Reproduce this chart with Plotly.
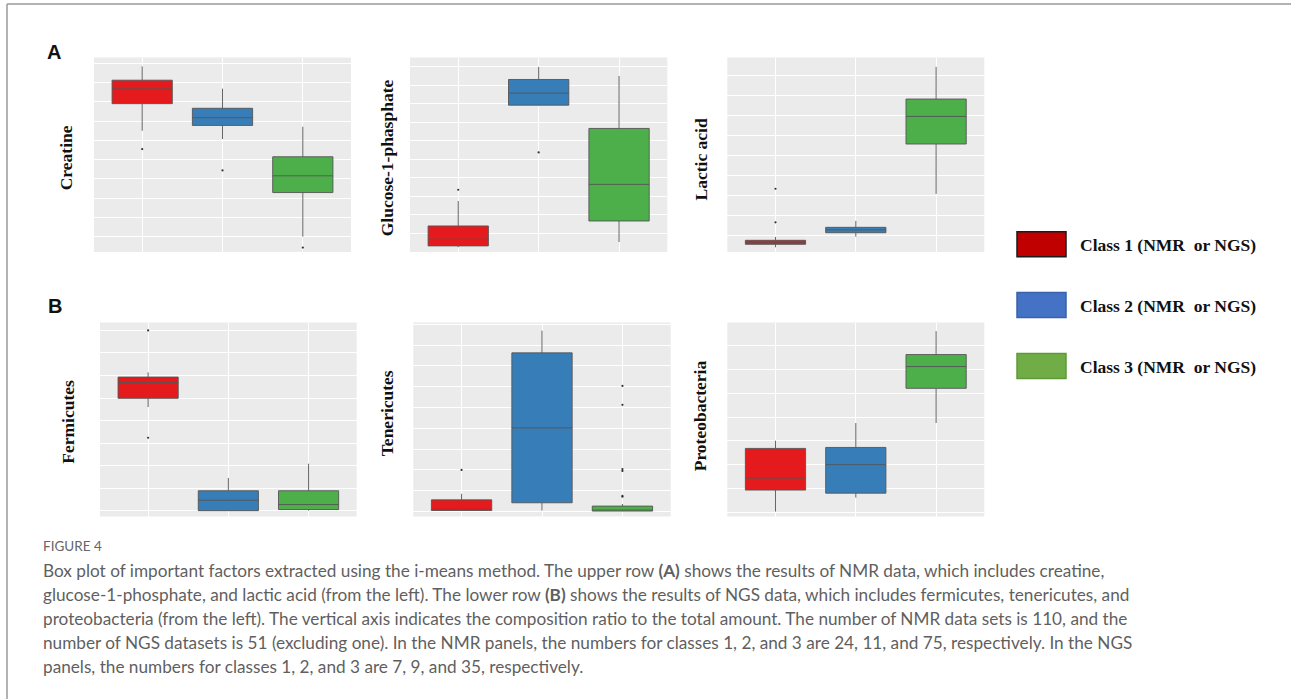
import plotly.graph_objects as go

W, H = 1291, 699

# Class positions on each panel's categorical axis
positions = [1, 2, 3]
class_fill = ["#E41A1C", "#377EB8", "#4DAF4A"]
legend_labels = ["Class 1 (NMR\u00a0 or NGS)", "Class 2 (NMR\u00a0 or NGS)", "Class 3 (NMR\u00a0 or NGS)"]
legend_fill = ["#C00000", "#4472C4", "#70AD47"]
legend_edge = ["#1a1a1a", "#3A62AA", "#5E9A3A"]

# Five-number summaries per class: (lower whisker, Q1, median, Q3, upper whisker)
creatine_stats = [(6.50, 7.91, 8.68, 9.13, 9.85), (6.07, 6.78, 7.18, 7.67, 8.69), (1.00, 3.29, 4.16, 5.15, 6.71)]
creatine_outliers = [[5.55], [4.44], [0.43]]

g1p_stats = [(0.24, 0.31, 0.67, 1.39, 2.74), (7.90, 7.93, 8.58, 9.32, 10.00), (0.52, 1.66, 3.64, 6.67, 9.51)]
g1p_outliers = [[3.35], [5.37], []]

lactic_stats = [(0.40, 0.55, 0.65, 0.75, 0.92), (0.93, 1.13, 1.27, 1.40, 1.72), (3.07, 5.57, 6.95, 7.82, 9.43)]
lactic_outliers = [[1.65, 3.33], [], []]

fermicutes_stats = [(5.60, 5.99, 6.69, 6.93, 7.14), (1.00, 1.01, 1.47, 1.89, 2.46), (1.01, 1.06, 1.28, 1.89, 3.09)]
fermicutes_outliers = [[9.00, 4.24], [], []]

tenericutes_stats = [(1.05, 1.05, 1.06, 1.56, 1.85), (1.05, 1.42, 5.02, 8.63, 9.70), (1.02, 1.02, 1.05, 1.26, 1.36)]
tenericutes_outliers = [[3.00], [], [7.04, 6.13, 3.04, 2.95, 1.75, 1.71]]

proteo_stats = [(1.05, 1.95, 2.45, 3.69, 4.01), (1.63, 1.82, 3.01, 3.73, 4.75), (4.75, 6.20, 7.11, 7.61, 8.59)]
proteo_outliers = [[], [], []]

panel_titles = ["Creatine", "Glucose-1-phasphate", "Lactic acid", "Fermicutes", "Tenericutes", "Proteobacteria"]
panel_stats = [creatine_stats, g1p_stats, lactic_stats, fermicutes_stats, tenericutes_stats, proteo_stats]
panel_outliers = [creatine_outliers, g1p_outliers, lactic_outliers, fermicutes_outliers,
                  tenericutes_outliers, proteo_outliers]

# Panel frames in pixels (left, right, top, bottom), y ranges and title centres
frames = [(94, 351, 57.5, 252), (410, 667.3, 57.5, 252), (727.3, 984.3, 57.5, 252),
          (100, 356.7, 322.5, 516.5), (413.3, 670.7, 322.5, 516.5), (727.3, 984.3, 322.5, 516.5)]
y_ranges = [(0.20, 10.31), (-0.02, 10.51), (0.165, 9.90), (0.75, 9.35), (0.76, 10.09), (0.845, 8.95)]
title_pos = [(66, 158.3), (387, 158.3), (700.5, 159), (68, 421.7), (386.5, 413.7), (700, 415.3)]

fig = go.Figure()
layout = dict(width=W, height=H, autosize=False, margin=dict(l=0, r=0, t=0, b=0),
              paper_bgcolor="white", plot_bgcolor="#EBEBEB", showlegend=False,
              shapes=[], annotations=[])

SERIF = "Liberation Serif, Times New Roman, serif"
SANS = "Liberation Sans, Arial, sans-serif"

for i, (stats, outs) in enumerate(zip(panel_stats, panel_outliers)):
    n = i + 1
    xa, ya = f"x{n}" if n > 1 else "x", f"y{n}" if n > 1 else "y"
    for c, (pos, s) in enumerate(zip(positions, stats)):
        lf, q1, med, q3, uf = s
        fig.add_trace(go.Box(
            x=[pos], lowerfence=[lf], q1=[q1], median=[med], q3=[q3], upperfence=[uf],
            width=0.75, whiskerwidth=0, boxpoints=False,
            fillcolor=class_fill[c], line=dict(color="#555555", width=0.9),
            xaxis=xa, yaxis=ya, hoverinfo="skip"))
        if outs[c]:
            fig.add_trace(go.Scatter(
                x=[pos] * len(outs[c]), y=outs[c], mode="markers",
                marker=dict(size=2.2, color="#333333"),
                xaxis=xa, yaxis=ya, hoverinfo="skip"))
    x0, x1, y0, y1 = frames[i]
    key = "" if n == 1 else str(n)
    layout["xaxis" + key] = dict(domain=[x0 / W, x1 / W], range=[0.4, 3.6], anchor=ya,
                                 tickmode="array", tickvals=positions, showticklabels=False,
                                 ticks="", showgrid=True, gridcolor="white", gridwidth=1,
                                 zeroline=False, showline=False, fixedrange=True)
    layout["yaxis" + key] = dict(domain=[1 - y1 / H, 1 - y0 / H], range=list(y_ranges[i]), anchor=xa,
                                 tickmode="linear", tick0=0, dtick=1, showticklabels=False,
                                 ticks="", showgrid=True, gridcolor="white", gridwidth=1,
                                 zeroline=False, showline=False, fixedrange=True)
    tx, ty = title_pos[i]
    layout["annotations"].append(dict(
        text="<b>%s</b>" % panel_titles[i], x=tx / W, y=1 - ty / H, xref="paper", yref="paper",
        xanchor="center", yanchor="middle", textangle=-90, showarrow=False,
        font=dict(family=SERIF, size=17.5, color="#111111")))

# Row labels
for lab, (lx, ly) in zip(["A", "B"], [(54, 52.5), (54.5, 306)]):
    layout["annotations"].append(dict(
        text="<b>%s</b>" % lab, x=lx / W, y=1 - ly / H, xref="paper", yref="paper",
        xanchor="center", yanchor="middle", showarrow=False,
        font=dict(family=SANS, size=20, color="#111111")))

# Legend swatches and labels
for k, cy in enumerate([244.2, 305, 366]):
    layout["shapes"].append(dict(
        type="rect", xref="paper", yref="paper",
        x0=1017 / W, x1=1066 / W, y0=1 - (cy + 12.5) / H, y1=1 - (cy - 12.5) / H,
        fillcolor=legend_fill[k], line=dict(color=legend_edge[k], width=1.5)))
    layout["annotations"].append(dict(
        text="<b>%s</b>" % legend_labels[k], x=1077.5 / W, y=1 - (cy + 0.5) / H,
        xref="paper", yref="paper", xanchor="left", yanchor="middle", showarrow=False,
        font=dict(family=SERIF, size=17.5, color="#111111")))

# Frame lines along the top and left of the figure
layout["shapes"].append(dict(type="line", xref="paper", yref="paper",
                             x0=7 / W, x1=1, y0=1 - 4 / H, y1=1 - 4 / H,
                             line=dict(color="#9a9a9a", width=1.5)))
layout["shapes"].append(dict(type="line", xref="paper", yref="paper",
                             x0=7 / W, x1=7 / W, y0=0, y1=1 - 4 / H,
                             line=dict(color="#9a9a9a", width=1.5)))

# Caption
caption_lines = [
    "Box plot of important factors extracted using the i-means method. The upper row <b>(A)</b> shows the results of NMR data, which includes creatine,",
    "glucose-1-phosphate, and lactic acid (from the left). The lower row <b>(B)</b> shows the results of NGS data, which includes fermicutes, tenericutes, and",
    "proteobacteria (from the left). The vertical axis indicates the composition ratio to the total amount. The number of NMR data sets is 110, and the",
    "number of NGS datasets is 51 (excluding one). In the NMR panels, the numbers for classes 1, 2, and 3 are 24, 11, and 75, respectively. In the NGS",
    "panels, the numbers for classes 1, 2, and 3 are 7, 9, and 35, respectively.",
]
CAP = "Lato, Open Sans, sans-serif"
layout["annotations"].append(dict(
    text="FIGURE 4", x=41 / W, y=1 - 545.5 / H, xref="paper", yref="paper",
    xanchor="left", yanchor="middle", showarrow=False,
    font=dict(family=CAP, size=13.5, color="#666666")))
for j, line in enumerate(caption_lines):
    cy = 570 + 24.2 * j
    layout["annotations"].append(dict(
        text=line, x=41 / W, y=1 - cy / H, xref="paper", yref="paper",
        xanchor="left", yanchor="middle", showarrow=False,
        font=dict(family=CAP, size=17.2, color="#5f5f5f")))

fig.update_layout(**layout)
fig.write_html("out.html", config={"displayModeBar": False})
